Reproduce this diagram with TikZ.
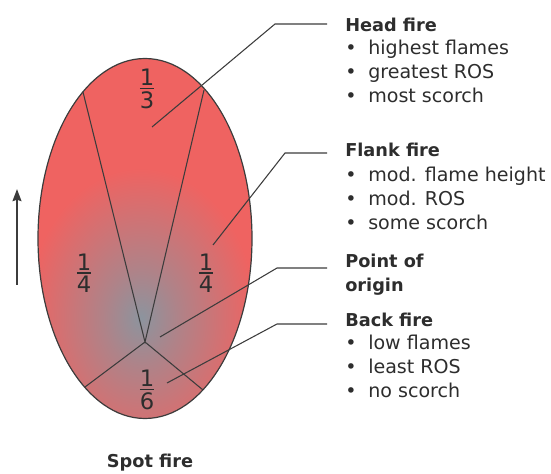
\documentclass[tikz,border=0pt]{standalone}
\usepackage{fontspec}
\setmainfont{DejaVu Sans}
\usetikzlibrary{arrows.meta}

\definecolor{firered}{RGB}{239,99,97}
\definecolor{smoke}{RGB}{140,148,158}
\definecolor{ink}{RGB}{60,60,60}
\definecolor{txt}{RGB}{45,45,45}

% grey glow round the point of origin
\pgfdeclareradialshading{ember}{\pgfpointorigin}{color(0bp)=(smoke); color(8bp)=(smoke!65!firered); color(25bp)=(firered); color(50bp)=(firered)}

% stacked fraction and list bullet
\newcommand{\share}[2]{\vbox{\hbox{#1}\kern1.6pt\hrule height 0.9pt\kern1.6pt\hbox{#2}}}
\newcommand{\itm}{\makebox[17.25pt][l]{\textbullet}}

\tikzset{
  firelabel/.style={font=\fontsize{13.3}{18}\selectfont\bfseries, text=txt, inner sep=0pt, align=left, anchor=base west},
  firelist/.style={font=\fontsize{14.3}{18}\selectfont, text=txt, inner sep=0pt, align=left, anchor=base west},
  sharelabel/.style={font=\fontsize{17}{20}\selectfont, text=txt, inner sep=0pt},
  leader/.style={draw=ink, line width=0.8pt},
  wedge/.style={draw=ink, line width=0.8pt}
}

\begin{document}
\begin{tikzpicture}[x=0.75pt,y=0.75pt,yscale=-1]
\useasboundingbox (0,0) rectangle (551,474);

%Shape: Ellipse
\begin{scope}
\clip (145,238.5) ellipse (107 and 180);
\fill[firered] (145,238.5) ellipse (107 and 180);
\shade[shading=ember] (141,318) ellipse (115 and 150);
\end{scope}
\draw[ink, line width=0.9pt] (145,238.5) ellipse (107 and 180);

%Straight Lines: wedges from the origin
\coordinate (origin) at (145,342);
\coordinate (head l) at (83,92);
\coordinate (head r) at (204,90);
\coordinate (back l) at (85,387);
\coordinate (back r) at (203,390);
\draw[wedge] (head l) -- (origin) -- (head r);
\draw[wedge] (back l) -- (origin) -- (back r);

% Text Node: fractions
\node[sharelabel] (third) at (147,89) {\share{1}{3}};
\node[sharelabel] (quarter l) at (84,273) {\share{1}{4}};
\node[sharelabel] (quarter r) at (206,273) {\share{1}{4}};
\node[sharelabel] (sixth) at (147,390) {\share{1}{6}};

%Straight Lines: spread direction
\coordinate (wind tail) at (17,285);
\coordinate (wind tip) at (17,189);
\draw[ink, line width=1.9pt, -{Stealth[length=9pt,width=6.5pt,inset=1pt]}] (wind tail) -- (wind tip);

% Text Node: labels (a multi-line node sits on its last line)
\node[firelabel] (headfire) at (345,32) {Head fire};
\node[firelist] (headlist) at (345,103) {\itm highest flames\\\itm greatest ROS\\\itm most scorch};
\node[firelabel] (flankfire) at (345,157) {Flank fire};
\node[firelist] (flanklist) at (345,230) {\itm mod. flame height\\\itm mod. ROS\\\itm some scorch};
\node[firelabel] (pointorigin) at (345,292) {Point of\\origin};
\node[firelabel] (backfire) at (345,327) {Back fire};
\node[firelist] (backlist) at (345,398) {\itm low flames\\\itm least ROS\\\itm no scorch};
\node[firelabel, anchor=base] (spotfire) at (150,468) {Spot fire};

%Straight Lines: leaders
\coordinate (head tip) at (152,127);
\coordinate (head bend) at (275,24);
\coordinate (head end) at (327,24);
\draw[leader] (head tip) -- (head bend) -- (head end);
\coordinate (flank tip) at (213,245);
\coordinate (flank bend) at (285,153);
\coordinate (flank end) at (327,153);
\draw[leader] (flank tip) -- (flank bend) -- (flank end);
\coordinate (origin tip) at (160,337);
\coordinate (origin bend) at (277,268);
\coordinate (origin end) at (327,268);
\draw[leader] (origin tip) -- (origin bend) -- (origin end);
\coordinate (back tip) at (167,383);
\coordinate (back bend) at (277,324);
\coordinate (back end) at (327,324);
\draw[leader] (back tip) -- (back bend) -- (back end);

\end{tikzpicture}
\end{document}
